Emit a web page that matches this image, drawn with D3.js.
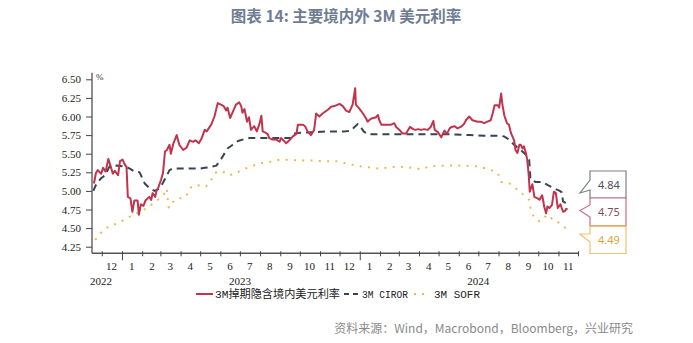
<!DOCTYPE html>
<html>
<head>
<meta charset="utf-8">
<script src="https://cdn.jsdelivr.net/npm/d3@7/dist/d3.min.js"></script>
<style>
  html, body { margin: 0; padding: 0; background: #fff; }
  svg { display: block; }
</style>
</head>
<body>
<svg id="chart" width="693" height="343"></svg>
<script>
// 3M swap-implied onshore USD rate
const swapDates = ["2022-11-19","2022-11-22","2022-11-25","2022-11-30","2022-12-03","2022-12-07","2022-12-11","2022-12-14","2022-12-18","2022-12-21","2022-12-26","2022-12-29","2023-01-02","2023-01-05","2023-01-08","2023-01-10","2023-01-14","2023-01-17","2023-01-20","2023-01-25","2023-01-27","2023-01-30","2023-02-03","2023-02-06","2023-02-12","2023-02-15","2023-02-17","2023-02-21","2023-02-23","2023-02-26","2023-03-02","2023-03-05","2023-03-08","2023-03-11","2023-03-15","2023-03-17","2023-03-21","2023-03-26","2023-03-30","2023-04-05","2023-04-10","2023-04-15","2023-04-20","2023-04-24","2023-04-29","2023-05-03","2023-05-08","2023-05-11","2023-05-18","2023-05-23","2023-05-28","2023-06-02","2023-06-06","2023-06-10","2023-06-12","2023-06-16","2023-06-20","2023-06-25","2023-06-30","2023-07-03","2023-07-05","2023-07-08","2023-07-12","2023-07-15","2023-07-18","2023-07-23","2023-07-27","2023-07-31","2023-08-03","2023-08-05","2023-08-10","2023-08-13","2023-08-15","2023-08-20","2023-08-26","2023-08-31","2023-09-02","2023-09-08","2023-09-10","2023-09-15","2023-09-20","2023-09-26","2023-09-28","2023-10-06","2023-10-09","2023-10-13","2023-10-18","2023-10-23","2023-10-26","2023-10-31","2023-11-05","2023-11-13","2023-11-18","2023-11-23","2023-12-01","2023-12-06","2023-12-11","2023-12-16","2023-12-21","2023-12-25","2023-12-26","2023-12-31","2024-01-06","2024-01-11","2024-01-13","2024-01-18","2024-01-26","2024-01-29","2024-01-31","2024-02-03","2024-02-10","2024-02-18","2024-02-23","2024-02-26","2024-03-02","2024-03-07","2024-03-12","2024-03-18","2024-03-23","2024-03-26","2024-03-31","2024-04-04","2024-04-09","2024-04-14","2024-04-19","2024-04-23","2024-04-25","2024-04-30","2024-05-05","2024-05-10","2024-05-14","2024-05-18","2024-05-21","2024-05-26","2024-05-30","2024-06-04","2024-06-09","2024-06-12","2024-06-17","2024-06-22","2024-06-30","2024-07-05","2024-07-10","2024-07-15","2024-07-20","2024-07-23","2024-07-26","2024-07-31","2024-08-02","2024-08-05","2024-08-07","2024-08-10","2024-08-14","2024-08-17","2024-08-20","2024-08-25","2024-08-27","2024-08-30","2024-09-02","2024-09-04","2024-09-07","2024-09-09","2024-09-12","2024-09-14","2024-09-16","2024-09-18","2024-09-22","2024-09-25","2024-09-30","2024-10-03","2024-10-07","2024-10-09","2024-10-10","2024-10-13","2024-10-15","2024-10-18","2024-10-22","2024-10-25","2024-10-28","2024-10-31","2024-11-04","2024-11-08","2024-11-11","2024-11-13","2024-11-15"];
const swapValues = [5.10,5.24,5.28,5.23,5.31,5.26,5.43,5.35,5.23,5.27,5.21,5.40,5.42,5.36,5.32,4.92,4.90,4.72,4.87,4.87,4.68,4.82,4.80,4.87,4.92,4.88,4.97,4.92,5.00,5.05,5.15,5.24,5.53,5.55,5.62,5.50,5.64,5.75,5.62,5.55,5.58,5.68,5.66,5.68,5.64,5.70,5.82,5.80,5.89,6.00,6.18,6.16,6.14,6.08,6.12,5.98,6.06,6.16,6.19,6.14,6.05,6.10,5.93,5.99,5.82,5.87,5.80,5.90,6.01,5.80,5.78,5.76,5.71,5.69,5.69,5.66,5.71,5.66,5.64,5.68,5.73,5.77,5.89,5.89,5.87,5.80,5.75,5.82,6.04,6.00,6.04,6.09,6.13,6.14,6.17,6.14,6.08,6.06,6.16,6.38,6.16,6.11,6.04,5.97,5.93,5.97,5.99,6.02,5.95,5.89,5.89,5.89,5.91,5.86,5.82,5.77,5.77,5.86,5.83,5.82,5.83,5.82,5.83,5.82,5.86,5.94,5.82,5.79,5.72,5.81,5.77,5.84,5.86,5.87,5.84,5.86,5.90,5.95,6.00,5.95,5.93,5.93,5.91,5.93,5.95,6.04,6.15,6.15,6.12,6.31,6.16,6.01,5.91,5.89,5.78,5.68,5.55,5.51,5.62,5.62,5.57,5.60,5.51,5.42,5.25,4.99,5.09,4.92,4.90,4.88,4.94,4.85,4.79,4.70,4.79,4.77,4.81,4.99,4.97,4.77,4.82,4.72,4.73,4.76,4.75];

// 3M CIROR
const cirorDates = ["2022-11-18","2022-11-23","2022-11-30","2022-12-06","2022-12-13","2022-12-24","2023-01-05","2023-01-13","2023-01-20","2023-01-28","2023-02-05","2023-02-13","2023-02-20","2023-02-25","2023-03-03","2023-03-10","2023-03-15","2023-03-20","2023-04-05","2023-05-01","2023-05-08","2023-05-16","2023-05-26","2023-06-03","2023-06-12","2023-06-20","2023-06-28","2023-07-09","2023-07-16","2023-09-17","2023-09-22","2023-10-01","2023-11-13","2023-12-09","2023-12-19","2023-12-24","2023-12-29","2024-01-03","2024-01-07","2024-01-13","2024-03-03","2024-05-22","2024-06-18","2024-07-10","2024-08-05","2024-08-10","2024-08-17","2024-08-25","2024-09-04","2024-09-13","2024-09-17","2024-09-18","2024-09-19","2024-09-27","2024-10-08","2024-10-15","2024-10-26","2024-11-03","2024-11-06","2024-11-08","2024-11-12","2024-11-15"];
const cirorValues = [5.00,5.10,5.17,5.21,5.33,5.34,5.33,5.30,5.26,5.25,5.10,5.03,5.00,5.02,5.08,5.19,5.28,5.30,5.30,5.30,5.31,5.32,5.34,5.44,5.57,5.62,5.67,5.70,5.71,5.71,5.77,5.78,5.80,5.80,5.81,5.86,5.90,5.85,5.80,5.76,5.76,5.76,5.75,5.74,5.74,5.73,5.69,5.62,5.55,5.48,5.42,5.30,5.15,5.12,5.12,5.08,5.03,5.00,4.98,4.86,4.84,4.84];

// 3M SOFR
const sofrDates = ["2022-11-21","2022-11-29","2022-12-11","2022-12-24","2023-01-06","2023-01-18","2023-01-29","2023-02-08","2023-02-18","2023-02-28","2023-03-08","2023-03-11","2023-03-13","2023-03-15","2023-03-18","2023-03-23","2023-03-31","2023-04-08","2023-04-18","2023-04-26","2023-05-03","2023-05-10","2023-05-16","2023-05-24","2023-05-31","2023-06-07","2023-06-15","2023-06-25","2023-07-06","2023-07-19","2023-07-31","2023-08-16","2023-08-31","2023-09-13","2023-09-26","2023-10-16","2023-11-06","2023-11-26","2023-12-16","2024-01-01","2024-02-01","2024-02-27","2024-03-23","2024-04-05","2024-04-17","2024-05-13","2024-06-08","2024-06-28","2024-07-14","2024-07-23","2024-07-31","2024-08-05","2024-08-18","2024-08-31","2024-09-09","2024-09-17","2024-09-19","2024-09-25","2024-10-03","2024-10-09","2024-10-15","2024-10-23","2024-10-28","2024-11-04","2024-11-12","2024-11-15"];
const sofrValues = [4.34,4.43,4.52,4.56,4.62,4.68,4.72,4.77,4.83,4.90,4.97,5.03,4.79,4.77,4.82,4.88,4.90,4.91,5.06,5.07,5.08,5.06,5.12,5.24,5.27,5.25,5.21,5.24,5.29,5.33,5.37,5.39,5.42,5.42,5.41,5.41,5.40,5.40,5.36,5.33,5.30,5.33,5.31,5.29,5.33,5.34,5.34,5.33,5.30,5.27,5.24,5.12,5.10,5.01,4.94,4.88,4.77,4.63,4.59,4.63,4.68,4.62,4.61,4.55,4.50,4.49];

const seriesNames = ["3M掉期隐含境内美元利率", "3M CIROR", "3M SOFR"];
const yTickValues = [4.25, 4.50, 4.75, 5.00, 5.25, 5.50, 5.75, 6.00, 6.25, 6.50];
const yearLabels = ["2022", "2023", "2024"];
const yearLabelDates = ["2022-11-30", "2023-07-01", "2024-07-01"];

const parse = d3.timeParse("%Y-%m-%d");
const zip = (ds, vs) => ds.map((d, i) => ({ date: parse(d), value: vs[i] }));
const series = [
  { name: seriesNames[0], data: zip(swapDates, swapValues), color: "#c0354d", dash: null, width: 2 },
  { name: seriesNames[1], data: zip(cirorDates, cirorValues), color: "#3a4350", dash: "7,5", width: 2 },
  { name: seriesNames[2], data: zip(sofrDates, sofrValues), color: "#ecb94e", dash: "2,6.3", width: 2 }
];

const svg = d3.select("#chart");
const numFont = "'Liberation Serif', 'DejaVu Serif', serif";

// title
svg.append("text")
  .attr("x", 346).attr("y", 22)
  .attr("text-anchor", "middle")
  .attr("font-family", "'Noto Sans CJK SC', sans-serif")
  .attr("font-weight", "bold")
  .attr("font-size", 15.5)
  .attr("fill", "#6f7d92")
  .text("图表 14: 主要境内外 3M 美元利率");

// scales
const x = d3.scaleTime()
  .domain([parse("2022-11-16"), parse("2024-12-01")])
  .range([92, 578]);
const y = d3.scaleLinear().domain([4.25, 6.5]).range([246.7, 79.3]);
const yBottom = 253.3, yTop = 72.7;

// y axis
const yAxis = svg.append("g")
  .attr("transform", "translate(92,0)")
  .call(d3.axisLeft(y).tickValues(yTickValues).tickSize(6).tickPadding(5).tickFormat(d3.format(".2f")));
yAxis.select(".domain").remove();
yAxis.selectAll("line").attr("stroke", "#444");
yAxis.selectAll("text").attr("font-family", numFont).attr("font-size", 11).attr("fill", "#222");
svg.append("line").attr("x1", 92).attr("x2", 92).attr("y1", yTop).attr("y2", yBottom)
  .attr("stroke", "#444").attr("stroke-width", 1.2);
svg.append("text").attr("x", 96).attr("y", 80)
  .attr("font-family", numFont).attr("font-size", 9).attr("fill", "#333").text("%");

// x axis
const monthStarts = d3.timeMonth.range(parse("2022-12-01"), parse("2024-12-02"));
svg.append("line").attr("x1", 92).attr("x2", 578).attr("y1", yBottom).attr("y2", yBottom)
  .attr("stroke", "#555").attr("stroke-width", 1.5);
const xAxis = svg.append("g")
  .attr("transform", `translate(0,${yBottom - 2})`)
  .call(d3.axisBottom(x).tickValues(monthStarts).tickSize(5).tickFormat(""));
xAxis.select(".domain").remove();
xAxis.selectAll("line").attr("stroke", "#444");
xAxis.selectAll(".tick")
  .filter(d => d.getMonth() === 0)
  .select("line").attr("y2", 9);

const monthMids = d3.timeMonth.range(parse("2022-12-01"), parse("2024-11-02"))
  .map(d => d3.timeDay.offset(d, 15));
svg.append("g").selectAll("text")
  .data(monthMids).join("text")
  .attr("x", d => x(d)).attr("y", 270)
  .attr("text-anchor", "middle")
  .attr("font-family", numFont).attr("font-size", 11).attr("fill", "#222")
  .text(d => d3.timeFormat("%-m")(d));
svg.append("g").selectAll("text")
  .data(yearLabels).join("text")
  .attr("x", (d, i) => x(parse(yearLabelDates[i]))).attr("y", 285)
  .attr("text-anchor", "middle")
  .attr("font-family", numFont).attr("font-size", 11).attr("fill", "#222")
  .text(d => d);

// series lines
const line = d3.line().x(d => x(d.date)).y(d => y(d.value));
[series[2], series[1], series[0]].forEach(s => {
  svg.append("path")
    .datum(s.data)
    .attr("d", line)
    .attr("fill", "none")
    .attr("stroke", s.color)
    .attr("stroke-width", s.width)
    .attr("stroke-dasharray", s.dash)
    .attr("stroke-linejoin", "round");
});

// end-value callouts
const boxes = [
  { s: series[1], top: 171, bottom: 198, tipY: 193, p1: 180, p2: 190, stroke: "#7b7f88", text: "#4a4f58" },
  { s: series[0], top: 198, bottom: 226, tipY: 210.5, p1: 205, p2: 217, stroke: "#c97084", text: "#8a4b60" },
  { s: series[2], top: 226, bottom: 253.5, tipY: 234, p1: 234, p2: 242, stroke: "#f0c272", text: "#d8a53e" }
];
const bx0 = 590, bx1 = 626, tipX = 580;
boxes.forEach(b => {
  const p = d3.path();
  p.moveTo(bx0, b.top); p.lineTo(bx1, b.top); p.lineTo(bx1, b.bottom); p.lineTo(bx0, b.bottom);
  p.lineTo(bx0, b.p2); p.lineTo(tipX, b.tipY); p.lineTo(bx0, b.p1); p.closePath();
  svg.append("path").attr("d", p.toString())
    .attr("fill", "#fff").attr("stroke", b.stroke).attr("stroke-width", 1.2);
  const last = b.s.data[b.s.data.length - 1].value;
  svg.append("text")
    .attr("x", (bx0 + bx1) / 2 + 1).attr("y", (b.top + b.bottom) / 2 + 4)
    .attr("text-anchor", "middle")
    .attr("font-family", "'Noto Sans', 'DejaVu Sans', sans-serif")
    .attr("font-size", 11).attr("fill", b.text)
    .text(d3.format(".2f")(last));
});
// separator between the lower two callouts
svg.append("line").attr("x1", bx0).attr("x2", bx1).attr("y1", 226).attr("y2", 226)
  .attr("stroke", "#e49a45").attr("stroke-width", 1.2);

// legend
const legendFont = "'Liberation Mono', 'Noto Sans CJK SC', monospace";
const legend = [
  { s: series[0], x0: 196, x1: 213, tx: 215, tw: 125 },
  { s: series[1], x0: 344, x1: 360, tx: 362, tw: 46 },
  { s: series[2], x0: 414, x1: 428, tx: 434, tw: 46 }
];
legend.forEach(l => {
  svg.append("line").attr("x1", l.x0).attr("x2", l.x1).attr("y1", 294).attr("y2", 294)
    .attr("stroke", l.s.color).attr("stroke-width", 2)
    .attr("stroke-dasharray", l.s.dash ? (l.s === series[1] ? "5,4" : "2,6") : null);
  svg.append("text").attr("x", l.tx).attr("y", 298)
    .attr("font-family", legendFont).attr("font-size", 11.5).attr("fill", "#222")
    .attr("textLength", l.tw).attr("lengthAdjust", "spacingAndGlyphs")
    .text(l.s.name);
});

// source note
svg.append("text")
  .attr("x", 633).attr("y", 333)
  .attr("text-anchor", "end")
  .attr("font-family", "'Noto Sans CJK SC', 'Noto Sans', sans-serif")
  .attr("font-size", 12).attr("fill", "#8a8a8a")
  .text("资料来源：Wind，Macrobond，Bloomberg，兴业研究");
</script>
</body>
</html>
